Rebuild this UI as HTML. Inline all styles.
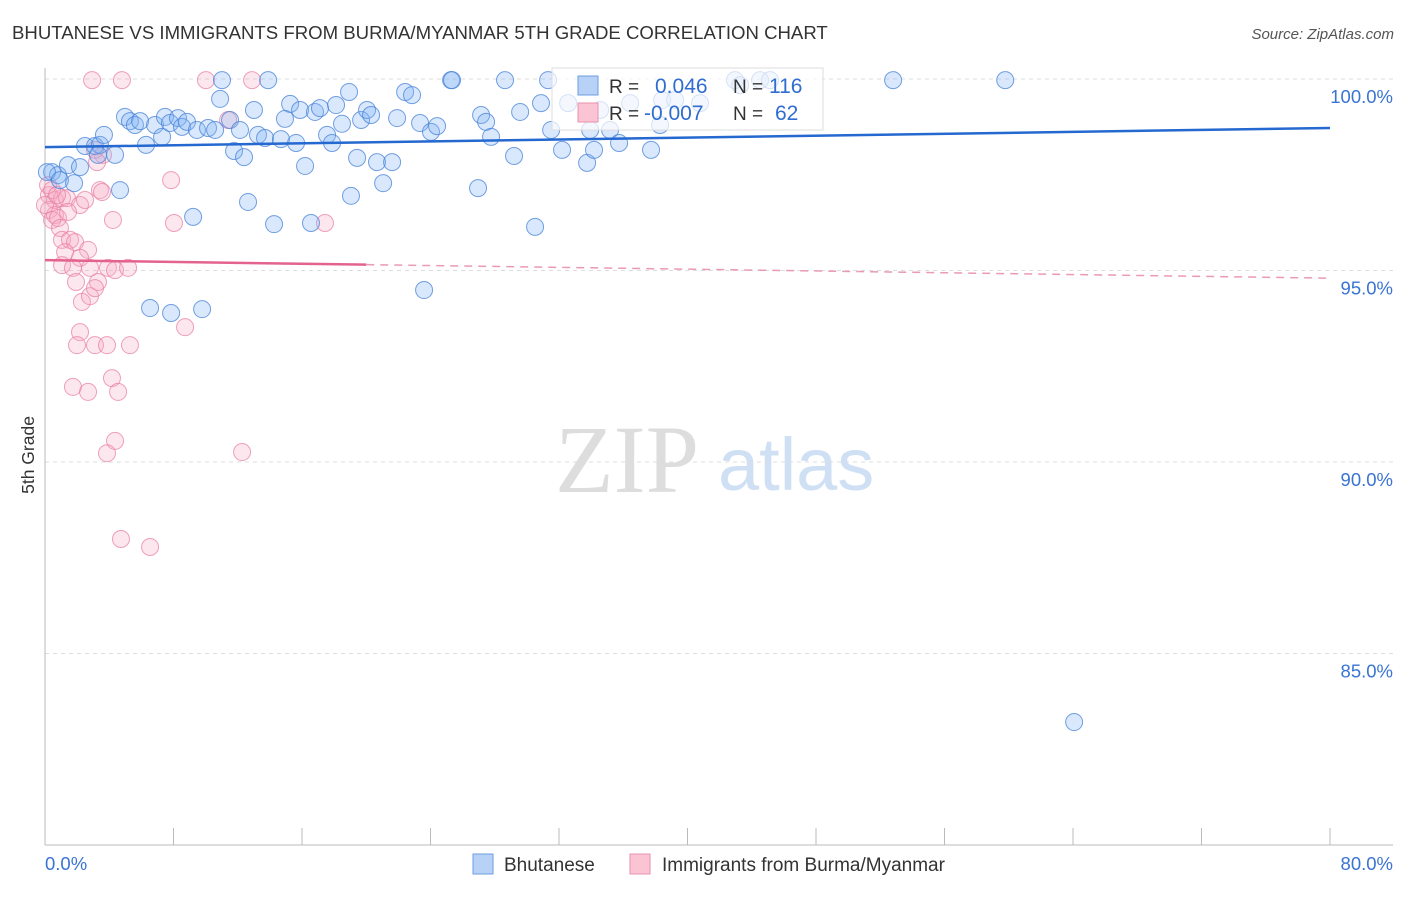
<!DOCTYPE html>
<html><head><meta charset="utf-8"><style>
body{margin:0;background:#fff;font-family:"Liberation Sans",sans-serif}
</style></head><body>
<svg id="chart" width="1406" height="892" xmlns="http://www.w3.org/2000/svg" style="font-family:'Liberation Sans',sans-serif">
<text x="12" y="39" font-size="18.6" fill="#333">BHUTANESE VS IMMIGRANTS FROM BURMA/MYANMAR 5TH GRADE CORRELATION CHART</text>
<text x="1394" y="39" font-size="15" fill="#555" font-style="italic" text-anchor="end">Source: ZipAtlas.com</text>
<text transform="translate(34,455) rotate(-90)" font-size="17.5" fill="#333" text-anchor="middle">5th Grade</text>
<g><text x="555" y="492" font-size="96" fill="#ddd" font-family="Liberation Serif">ZIP</text><text x="718" y="490" font-size="74" fill="#cfe0f4">atlas</text></g>
<g id="grid"></g><g id="axes"></g><g id="marks"></g>
<g>
<rect x="552" y="68" width="271" height="62" fill="#fff" fill-opacity="0.7" stroke="#ddd"/>
<rect x="578" y="76" width="20" height="19" fill="#b7d2f6" stroke="#6d9fe0"/>
<rect x="578" y="103" width="20" height="19" fill="#fbc4d5" stroke="#e891ad"/>
<text x="609" y="93" font-size="19" fill="#333">R =</text><text x="655" y="93" font-size="21" fill="#2f6dd0">0.046</text>
<text x="733" y="93" font-size="19" fill="#333">N =</text><text x="769" y="93" font-size="21" fill="#2f6dd0">116</text>
<text x="609" y="120" font-size="19" fill="#333">R =</text><text x="644" y="120" font-size="21" fill="#2f6dd0">-0.007</text>
<text x="733" y="120" font-size="19" fill="#333">N =</text><text x="775" y="120" font-size="21" fill="#2f6dd0">62</text>
</g>
<g>
<rect x="473" y="854" width="20" height="20" fill="#b7d2f6" stroke="#6d9fe0"/>
<text x="504" y="871" font-size="19" fill="#333">Bhutanese</text>
<rect x="630" y="854" width="20" height="20" fill="#fbc4d5" stroke="#e891ad"/>
<text x="662" y="871" font-size="19" fill="#333">Immigrants from Burma/Myanmar</text>
</g>
</svg>
<script>
const blueX=[0.44,0.81,0.12,0.93,1.43,1.81,2.18,2.49,3.11,3.42,3.67,3.30,4.36,4.67,4.98,5.29,5.60,5.92,6.29,6.85,7.29,7.47,7.78,8.28,8.53,8.84,9.46,10.15,10.59,10.90,11.02,11.52,11.77,12.14,12.39,12.64,13.01,13.26,13.70,13.89,14.26,14.69,14.94,15.26,15.63,15.88,16.19,16.56,16.81,17.12,17.56,17.87,18.12,18.49,18.93,19.05,19.43,19.68,20.05,20.30,20.67,21.05,21.61,21.92,22.42,22.85,23.35,23.60,24.03,24.41,25.28,25.34,26.96,27.15,27.46,27.77,28.64,29.20,29.58,30.51,30.88,31.32,31.51,32.19,32.57,33.75,33.94,34.18,34.56,35.18,35.74,36.43,37.73,38.29,38.42,39.23,40.78,42.96,43.28,44.52,45.14,52.80,59.78,64.07,6.54,7.85,9.78,9.22];
const blueY=[97.57,97.49,97.57,97.36,97.75,97.28,97.70,98.25,98.25,98.28,98.54,98.02,98.02,97.10,99.01,98.90,98.80,98.90,98.28,98.80,98.49,99.01,98.85,98.98,98.75,98.88,98.67,98.72,98.67,99.48,99.97,98.93,98.12,98.67,97.96,96.79,99.19,98.54,98.46,99.97,96.21,98.43,98.96,99.35,98.33,99.19,97.73,96.24,99.14,99.24,98.54,98.33,99.32,98.83,99.66,96.95,97.94,98.93,99.19,99.06,97.83,97.28,97.83,98.98,99.66,99.58,98.85,94.49,98.62,98.77,99.97,99.97,97.15,99.06,98.88,98.49,99.97,97.99,99.14,96.14,99.37,99.97,98.67,98.15,99.37,97.81,98.67,98.15,99.19,98.67,98.33,99.37,98.15,98.80,99.45,99.45,99.37,99.97,99.84,99.97,99.97,99.97,99.97,83.21,94.02,93.89,93.99,96.40];
const pinkX=[2.93,4.79,10.02,12.89,11.40,3.61,3.11,3.24,3.42,3.55,7.85,4.23,8.03,17.43,0.25,0.62,1.06,1.37,0.25,0.62,0.44,0.81,0.93,2.18,1.43,2.49,1.06,1.56,1.87,1.25,2.68,2.18,1.06,1.74,2.80,3.92,4.36,5.17,1.93,3.30,2.30,2.80,3.11,2.18,1.99,3.11,3.86,5.29,8.72,1.74,2.68,4.17,4.55,4.36,3.86,12.27,4.73,6.54,0.19,0.44,0.0,0.75];
const pinkY=[99.97,99.97,99.97,99.97,98.93,98.02,98.15,97.83,97.10,97.05,97.36,96.32,96.24,96.24,96.97,96.84,96.89,96.89,96.58,96.45,96.32,96.37,96.11,96.71,96.53,96.84,95.80,95.80,95.74,95.48,95.54,95.33,95.14,95.07,95.07,95.07,95.01,95.07,94.70,94.70,94.18,94.33,94.54,93.39,93.05,93.05,93.05,93.05,93.52,91.96,91.83,92.19,91.83,90.55,90.23,90.26,87.99,87.78,97.23,97.10,96.71,96.97];
const yTicks=[100,95,90,85];
const yTickLabels=["100.0%","95.0%","90.0%","85.0%"];
const xTickLabels=["0.0%","80.0%"];
const blueTrend=[98.22,98.72];
const pinkTrend=[95.27,94.80];
const NS="http://www.w3.org/2000/svg";
const sx=v=>45+v/80*1285;
const sy=v=>79+(100-v)/5*191.5;
function mk(tag,attrs,parent){const e=document.createElementNS(NS,tag);for(const k in attrs)e.setAttribute(k,attrs[k]);parent.appendChild(e);return e;}
const grid=document.getElementById('grid'),axes=document.getElementById('axes'),marks=document.getElementById('marks');
yTicks.forEach((t,i)=>{
  const l=mk('line',{x1:45,x2:1393,y1:sy(t),y2:sy(t),stroke:'#ddd','stroke-dasharray':'4,4'},grid);
  
  
  const tx=mk('text',{x:1393,y:sy(t)+24,'font-size':18.5,fill:'#3a74d2','text-anchor':'end'},axes);
  tx.textContent=yTickLabels[i];
  
  
});
const ya=mk('line',{x1:45,x2:45,y1:68,y2:845,stroke:'#bbb'},axes);


const xa=mk('line',{x1:45,x2:1393,y1:845,y2:845,stroke:'#bbb'},axes);


for(let i=0;i<=10;i++){const v=i*8;
  const tk=mk('line',{x1:sx(v),x2:sx(v),y1:828,y2:845,stroke:'#bbb'},axes);
  
  }
[[0,'start',45],[80,'end',1393]].forEach((a,i)=>{
  const tx=mk('text',{x:a[2],y:870,'font-size':18.5,fill:'#3a74d2','text-anchor':a[1]},axes);
  tx.textContent=xTickLabels[i];
  
  });
pinkX.forEach((x,i)=>{
  const c=mk('circle',{cx:sx(x),cy:sy(pinkY[i]),r:8.5,fill:'rgba(248,170,195,0.28)',stroke:'rgba(232,130,165,0.75)','stroke-width':1},marks);
  
  });
blueX.forEach((x,i)=>{
  const c=mk('circle',{cx:sx(x),cy:sy(blueY[i]),r:8.5,fill:'rgba(130,180,245,0.3)',stroke:'rgba(70,130,215,0.75)','stroke-width':1},marks);
  
  });
const bt=mk('line',{x1:sx(0),x2:sx(80),y1:sy(blueTrend[0]),y2:sy(blueTrend[1]),stroke:'#2468d0','stroke-width':2.5},marks);


const pm=pinkTrend[0]+(pinkTrend[1]-pinkTrend[0])*(20/80);
const pt=mk('line',{x1:sx(0),x2:sx(20),y1:sy(pinkTrend[0]),y2:sy(pm),stroke:'#e4628e','stroke-width':2.5},marks);


const pd=mk('line',{x1:sx(20),x2:sx(80),y1:sy(pm),y2:sy(pinkTrend[1]),stroke:'#e99ab4','stroke-width':1.5,'stroke-dasharray':'8,6'},marks);


</script>
</body></html>
